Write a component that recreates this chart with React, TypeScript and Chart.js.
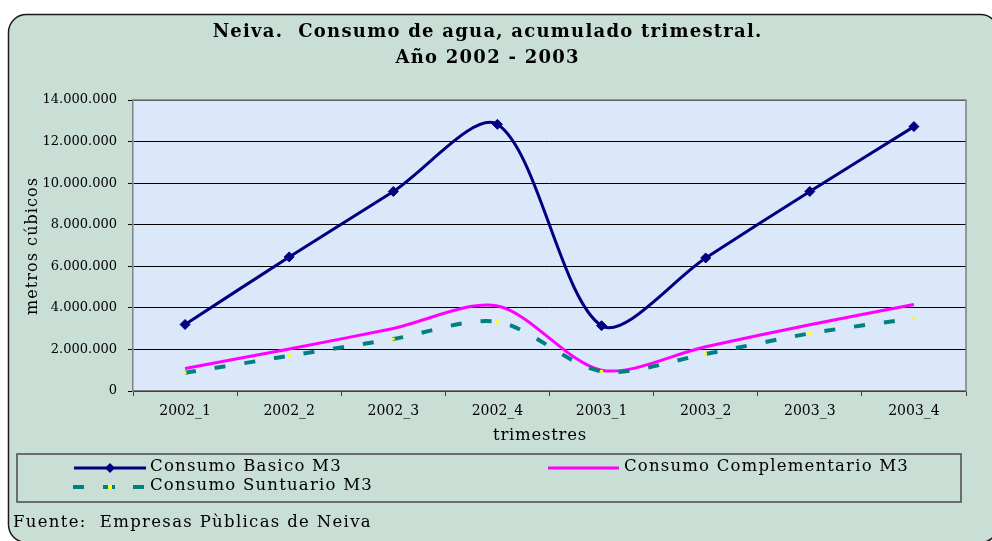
import React, { useEffect, useRef } from "react";
import { Chart, registerables } from "chart.js";

Chart.register(...registerables);

const categories = ["2002_1", "2002_2", "2002_3", "2002_4", "2003_1", "2003_2", "2003_3", "2003_4"];
const basico = [3200000, 6450000, 9600000, 12830000, 3140000, 6400000, 9600000, 12720000];
const complementario = [1080000, 2020000, 3010000, 4090000, 1000000, 2130000, 3190000, 4160000];
const suntuario = [880000, 1690000, 2500000, 3330000, 950000, 1780000, 2770000, 3500000];
const seriesLabels = ["Consumo Basico M3", "Consumo Complementario M3", "Consumo Suntuario M3"];
const titleLines = ["Neiva.  Consumo de agua, acumulado trimestral.", "Año 2002 - 2003"];
const xTitle = "trimestres";
const yTitle = "metros cúbicos";
const footerText = "Fuente:  Empresas Pùblicas de Neiva";
const yMax = 14000000;
const yStep = 2000000;

const SERIF = '"DejaVu Serif", serif';

function fmt(v: number): string {
  return String(Math.round(v)).replace(/\B(?=(\d{3})+(?!\d))/g, ".");
}

function spacingFor(ctx: CanvasRenderingContext2D, text: string, width: number) {
  ctx.letterSpacing = "0px";
  const w = ctx.measureText(text).width;
  const n = Array.from(text).length;
  return (width - w) / n;
}

function drawFitted(ctx: CanvasRenderingContext2D, text: string, left: number, baseline: number, width: number) {
  const sp = spacingFor(ctx, text, width);
  ctx.letterSpacing = sp + "px";
  ctx.textAlign = "left";
  ctx.textBaseline = "alphabetic";
  ctx.fillText(text, left, baseline);
  ctx.letterSpacing = "0px";
}

const decorPlugin = {
  id: "decor",
  beforeUpdate(chart: any) {
    chart.ctx.letterSpacing = "0px";
  },
  beforeDraw(chart: any) {
    const ctx = chart.ctx as CanvasRenderingContext2D;
    const { width, height, chartArea } = chart;
    ctx.save();
    ctx.fillStyle = "#ffffff";
    ctx.fillRect(0, 0, width, height);
    ctx.beginPath();
    (ctx as any).roundRect(8.5, 14.5, 990, 528, 18);
    ctx.fillStyle = "#c9dfd6";
    ctx.fill();
    ctx.lineWidth = 1.5;
    ctx.strokeStyle = "#1a1a1a";
    ctx.stroke();
    ctx.fillStyle = "#dbe8f9";
    ctx.fillRect(chartArea.left, chartArea.top, chartArea.right - chartArea.left, chartArea.bottom - chartArea.top);
    ctx.restore();
    ctx.letterSpacing = "0px";
  },
  beforeDatasetsDraw(chart: any) {
    const ctx = chart.ctx as CanvasRenderingContext2D;
    const { chartArea } = chart;
    ctx.save();
    ctx.strokeStyle = "#808080";
    ctx.lineWidth = 1.5;
    ctx.beginPath();
    ctx.moveTo(chartArea.left, chartArea.top);
    ctx.lineTo(chartArea.right, chartArea.top);
    ctx.lineTo(chartArea.right, chartArea.bottom);
    ctx.stroke();
    ctx.restore();
  },
  afterDraw(chart: any) {
    const ctx = chart.ctx as CanvasRenderingContext2D;
    ctx.save();
    ctx.fillStyle = "#000000";
    // title
    ctx.font = `bold 18px ${SERIF}`;
    const sp = spacingFor(ctx, titleLines[0], 550);
    ctx.letterSpacing = sp + "px";
    ctx.textAlign = "left";
    ctx.textBaseline = "alphabetic";
    const cx = 487;
    titleLines.forEach((line, i) => {
      const lw = ctx.measureText(line).width - sp;
      ctx.fillText(line, cx - lw / 2, 37 + i * 26);
    });
    ctx.letterSpacing = "0px";

    // axis titles
    ctx.font = `16.5px ${SERIF}`;
    drawFitted(ctx, xTitle, 493, 440, 94);
    ctx.save();
    ctx.translate(37, 246);
    ctx.rotate(-Math.PI / 2);
    ctx.font = `16px ${SERIF}`;
    drawFitted(ctx, yTitle, -69, 0, 138);
    ctx.restore();

    // legend box
    ctx.strokeStyle = "#4a4a4a";
    ctx.lineWidth = 1.5;
    ctx.strokeRect(17, 454, 944, 48);

    const ds = chart.data.datasets;
    const items = [
      { d: ds[0], x0: 74, x1: 146, y: 468, tx: 150, ty: 471, tw: 192 },
      { d: ds[1], x0: 548, x1: 619, y: 468, tx: 624, ty: 471, tw: 285 },
      { d: ds[2], x0: 73, x1: 147, y: 487, tx: 150, ty: 490, tw: 223 },
    ];
    items.forEach((it) => {
      const d = it.d;
      ctx.save();
      ctx.strokeStyle = d.borderColor;
      ctx.lineWidth = d.borderWidth;
      ctx.setLineDash(d.borderDash || []);
      ctx.beginPath();
      ctx.moveTo(it.x0, it.y);
      ctx.lineTo(it.x1, it.y);
      ctx.stroke();
      ctx.setLineDash([]);
      const mx = (it.x0 + it.x1) / 2;
      if (d.pointRadius > 0) {
        ctx.fillStyle = d.pointBackgroundColor;
        if (d.pointStyle === "rectRot") {
          const r = d.pointRadius;
          ctx.beginPath();
          ctx.moveTo(mx, it.y - r);
          ctx.lineTo(mx + r, it.y);
          ctx.lineTo(mx, it.y + r);
          ctx.lineTo(mx - r, it.y);
          ctx.closePath();
          ctx.fill();
        } else {
          const r = d.pointRadius;
          ctx.fillStyle = d.borderColor;
          ctx.fillRect(mx - 5, it.y - 2, 10, 4);
          ctx.fillStyle = d.pointBackgroundColor;
          ctx.fillRect(mx - r, it.y - r, 2 * r, 2 * r);
        }
      }
      ctx.restore();
      ctx.fillStyle = "#000000";
      ctx.font = `16.5px ${SERIF}`;
      drawFitted(ctx, d.label, it.tx, it.ty, it.tw);
    });

    // footer
    ctx.font = `16.5px ${SERIF}`;
    drawFitted(ctx, footerText, 13, 527, 359);
    ctx.restore();
    ctx.letterSpacing = "0px";
  },
};

export default function App() {
  const ref = useRef<HTMLCanvasElement | null>(null);
  useEffect(() => {
    document.body.style.margin = "0";
    const canvas = ref.current;
    if (!canvas) return;
    const chart = new Chart(canvas, {
      type: "line",
      data: {
        labels: categories,
        datasets: [
          {
            label: seriesLabels[0],
            data: basico,
            borderColor: "#000080",
            backgroundColor: "#000080",
            borderWidth: 3,
            pointStyle: "rectRot",
            pointRadius: 5,
            pointBackgroundColor: "#000080",
            pointBorderColor: "#000080",
            pointBorderWidth: 1,
            tension: 0.3,
            fill: false,
            order: 3,
          },
          {
            label: seriesLabels[1],
            data: complementario,
            borderColor: "#ff00ff",
            backgroundColor: "#ff00ff",
            borderWidth: 3,
            pointRadius: 0,
            tension: 0.3,
            fill: false,
            order: 2,
          },
          {
            label: seriesLabels[2],
            data: suntuario,
            borderColor: "#008080",
            backgroundColor: "#008080",
            borderWidth: 4,
            borderDash: [11, 19],
            borderCapStyle: "butt",
            pointStyle: "rect",
            pointRadius: 2,
            pointBackgroundColor: "#ffff00",
            pointBorderColor: "#ffff00",
            pointBorderWidth: 0,
            tension: 0.3,
            fill: false,
            order: 1,
          },
        ],
      },
      options: {
        responsive: false,
        animation: false,
        events: [],
        layout: { padding: { top: 100, right: 26, left: 0, bottom: 0 } },
        plugins: {
          legend: { display: false },
          title: { display: false },
          tooltip: { enabled: false },
        },
        scales: {
          x: {
            type: "category",
            offset: true,
            grid: {
              offset: true,
              drawOnChartArea: false,
              drawTicks: true,
              tickLength: 5,
              color: "#404040",
            },
            border: { color: "#808080", width: 1.5 },
            ticks: {
              color: "#000000",
              font: { family: SERIF, size: 14 },
              padding: 7,
              autoSkip: false,
              maxRotation: 0,
            },
            title: { display: false, text: xTitle },
            afterFit: (s: any) => {
              s.height = 150;
            },
          },
          y: {
            min: 0,
            max: yMax,
            grid: {
              color: "#000000",
              lineWidth: 1,
              tickLength: 5,
              tickColor: "#000000",
            },
            border: { color: "#808080", width: 1.5 },
            ticks: {
              stepSize: yStep,
              color: "#000000",
              font: { family: SERIF, size: 13 },
              padding: 11,
              callback: (v: any) => fmt(Number(v)),
            },
            title: { display: false, text: yTitle },
            afterFit: (s: any) => {
              s.width = 133;
            },
          },
        },
      },
      plugins: [decorPlugin],
    } as any);
    return () => chart.destroy();
  }, []);
  return <canvas ref={ref} width={992} height={541} style={{ display: "block" }} />;
}
